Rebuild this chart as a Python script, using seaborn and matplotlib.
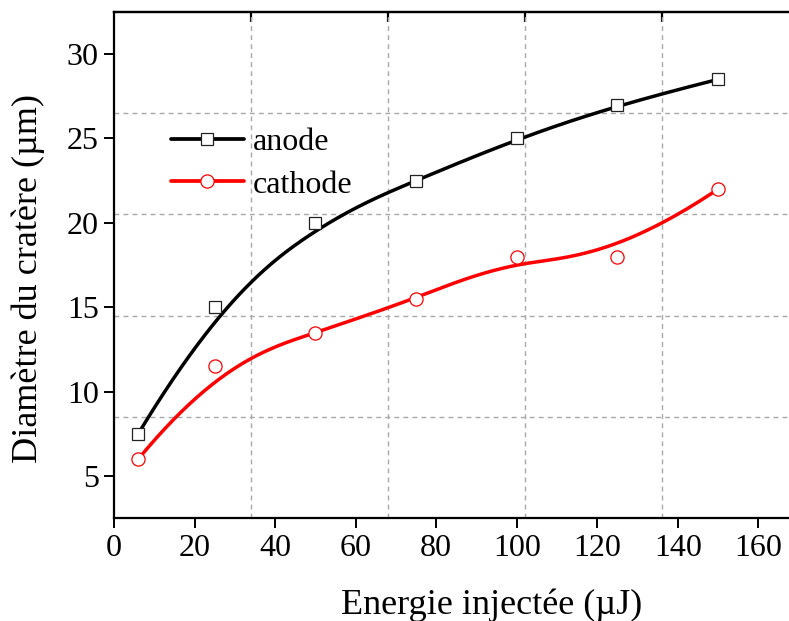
import numpy as np
import pandas as pd
import matplotlib
matplotlib.use("Agg")
import matplotlib.pyplot as plt
from matplotlib.lines import Line2D
import seaborn as sns

# ---- data ----
energy = [6, 25, 50, 75, 100, 125, 150]
anode = [7.5, 15, 20, 22.5, 25, 27, 28.5]
cathode = [6, 11.5, 13.5, 15.5, 18, 18, 22]
series_names = ["anode", "cathode"]
series_colors = ["black", "red"]
series_markers = ["s", "o"]
x_ticks = [0, 20, 40, 60, 80, 100, 120, 140, 160]
y_ticks = [5, 10, 15, 20, 25, 30]
x_label = "Energie injectée (µJ)"
y_label = "Diamètre du cratère (µm)"


def bspline(px, py, degree=3, n=300):
    """Clamped B-spline using the data points as control points (Origin-style B-spline)."""
    P = np.column_stack([px, py]).astype(float)
    m = len(P)
    inner = np.arange(1, m - degree)
    knots = np.concatenate([np.zeros(degree + 1), inner, np.full(degree + 1, m - degree)]).astype(float)
    t = np.linspace(0, m - degree, n)
    t[-1] -= 1e-9
    N = np.zeros((n, len(knots) - 1))
    for i in range(len(knots) - 1):
        N[:, i] = ((t >= knots[i]) & (t < knots[i + 1])).astype(float)
    for k in range(1, degree + 1):
        Nn = np.zeros((n, len(knots) - 1 - k))
        for i in range(len(knots) - 1 - k):
            a = np.zeros(n)
            b = np.zeros(n)
            d1 = knots[i + k] - knots[i]
            d2 = knots[i + k + 1] - knots[i + 1]
            if d1 > 0:
                a = (t - knots[i]) / d1 * N[:, i]
            if d2 > 0:
                b = (knots[i + k + 1] - t) / d2 * N[:, i + 1]
            Nn[:, i] = a + b
        N = Nn
    C = N @ P
    return C[:, 0], C[:, 1]


sns.set_style("ticks")
plt.rcParams["font.family"] = ["Liberation Serif", "DejaVu Serif"]
for key in ["text.color", "axes.labelcolor", "xtick.color", "ytick.color", "axes.edgecolor"]:
    plt.rcParams[key] = "black"

fig = plt.figure(figsize=(7.89, 6.21), dpi=100)
ax = fig.add_axes([0.1445, 0.1654, 0.8677, 0.8155])

xlim = (0, 170)
ylim = (2.5, 32.5)
ax.set_xlim(*xlim)
ax.set_ylim(*ylim)

# dashed grid at fifths of the axes
for k in range(1, 5):
    ax.axvline(xlim[0] + k * (xlim[1] - xlim[0]) / 5, color="#a8a8a8", lw=1.0,
               ls=(0, (3.5, 3)), zorder=0.5)
    ax.axhline(ylim[0] + k * (ylim[1] - ylim[0]) / 5, color="#a8a8a8", lw=1.0,
               ls=(0, (3.5, 3)), zorder=0.5)

handles = []
for name, vals, col, mk in zip(series_names, [anode, cathode], series_colors, series_markers):
    sx, sy = bspline(energy, vals)
    curve = pd.DataFrame({"x": sx, "y": sy})
    sns.lineplot(data=curve, x="x", y="y", ax=ax, color=col, lw=2.5, sort=False,
                 estimator=None, zorder=2)
    pts = pd.DataFrame({"x": energy, "y": vals})
    ms = 8 if mk == "s" else 9.5
    ec = col if col != "black" else "#222222"
    ax.plot(pts["x"], pts["y"], ls="none", marker=mk, markersize=ms,
            markerfacecolor="white", markeredgecolor=ec, markeredgewidth=0.9, zorder=3)
    handles.append(Line2D([], [], color=col, lw=2.7, marker=mk, markersize=ms,
                          markerfacecolor="white", markeredgecolor=ec,
                          markeredgewidth=0.9))

leg = ax.legend(handles, series_names, loc="upper left", bbox_to_anchor=(0.064, 0.797),
                frameon=False, fontsize=23, handlelength=2.3, handletextpad=0.28,
                labelspacing=0.42, borderaxespad=0)

ax.set_xticks(x_ticks)
ax.set_yticks(y_ticks)
ax.tick_params(axis="both", direction="out", length=7, width=1.4, labelsize=23,
               color="black", labelcolor="black", pad=4)
ax.set_xlabel(x_label, fontsize=26)
ax.set_ylabel(y_label, fontsize=26)
ax.xaxis.set_label_coords(0.551, -0.139)
ax.yaxis.set_label_coords(-0.101, 0.4735)

for s in ["left", "bottom", "top"]:
    ax.spines[s].set_linewidth(1.6)
    ax.spines[s].set_color("black")
ax.spines["right"].set_visible(False)

top = ax.secondary_xaxis("top")
top.set_xticks([xlim[0] + k * (xlim[1] - xlim[0]) / 5 for k in range(1, 5)])
top.set_xticklabels([])
top.tick_params(direction="in", length=7, width=1.6, color="black")
top.spines["top"].set_linewidth(1.6)

fig.savefig("out.png", dpi=100)
